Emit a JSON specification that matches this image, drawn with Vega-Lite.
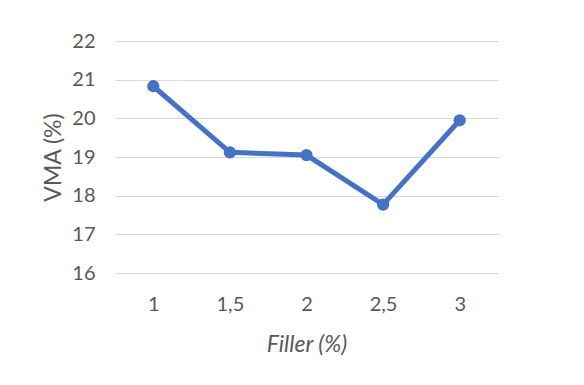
{
  "$schema": "https://vega.github.io/schema/vega-lite/v6.json",
  "autosize": "none",
  "width": 383,
  "height": 232,
  "padding": {"left": 115, "top": 41, "right": 86, "bottom": 112},
  "background": "white",
  "config": {
    "view": {"stroke": null},
    "font": "Lato"
  },
  "data": {
    "values": [
      {"filler": "1", "vma": 20.83},
      {"filler": "1,5", "vma": 19.12},
      {"filler": "2", "vma": 19.05},
      {"filler": "2,5", "vma": 17.77},
      {"filler": "3", "vma": 19.95}
    ]
  },
  "encoding": {
    "x": {
      "field": "filler",
      "type": "ordinal",
      "sort": null,
      "scale": {"type": "point", "padding": 0.5},
      "axis": {
        "title": "Filler (%)",
        "titleFont": "Lato",
        "titleFontStyle": "italic",
        "titleFontWeight": "normal",
        "titleFontSize": 23,
        "titleColor": "#595959",
        "titlePadding": 19,
        "labelFont": "Lato",
        "labelFontSize": 20,
        "labelColor": "#595959",
        "labelAngle": 0,
        "labelPadding": 21,
        "domain": false,
        "ticks": false,
        "grid": false
      }
    },
    "y": {
      "field": "vma",
      "type": "quantitative",
      "scale": {"domain": [16, 22], "nice": false, "zero": false},
      "axis": {
        "values": [16, 17, 18, 19, 20, 21, 22],
        "title": "VMA (%)",
        "titleFont": "Lato",
        "titleFontWeight": "normal",
        "titleFontSize": 23,
        "titleColor": "#595959",
        "titlePadding": 6,
        "labelFont": "Lato",
        "labelFontSize": 20,
        "labelColor": "#595959",
        "labelPadding": 20,
        "domain": false,
        "ticks": false,
        "grid": true,
        "gridColor": "#d9d9d9",
        "gridWidth": 1.2
      }
    }
  },
  "layer": [
    {"mark": {"type": "line", "color": "#4472C4", "strokeWidth": 5}},
    {"mark": {"type": "point", "filled": true, "color": "#4472C4", "opacity": 1, "size": 150}}
  ]
}
